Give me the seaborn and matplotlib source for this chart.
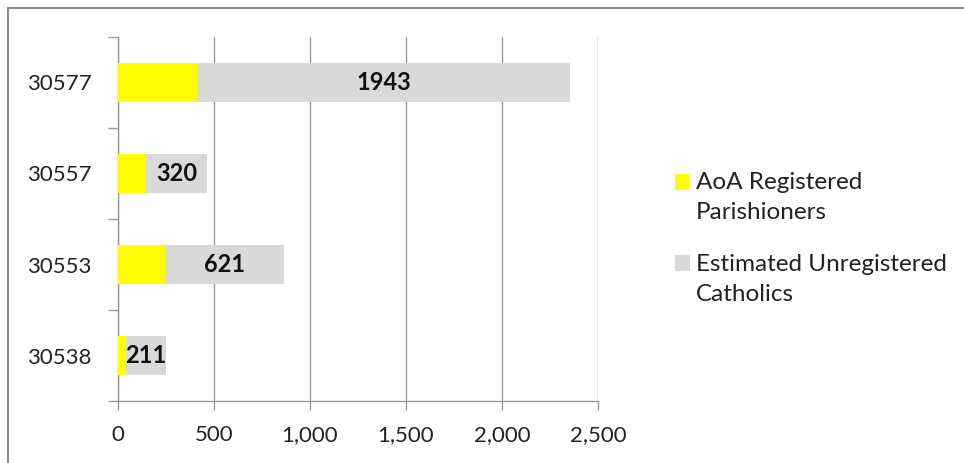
import matplotlib
matplotlib.use('Agg')
import matplotlib.pyplot as plt
import seaborn as sns
import pandas as pd
from matplotlib.lines import Line2D
from matplotlib.patches import Patch
from matplotlib.ticker import FuncFormatter, FixedLocator

# Данные
zips = ['30577', '30557', '30553', '30538']
registered = [413, 144, 244, 41]
unregistered = [1943, 320, 621, 211]
series_names = ['AoA Registered\nParishioners', 'Estimated Unregistered\nCatholics']

df = pd.DataFrame({'zip': zips, 'reg': registered, 'unreg': unregistered})
df['total'] = df['reg'] + df['unreg']

sns.set_style('white')
plt.rcParams['font.family'] = ['Lato', 'DejaVu Sans']

yellow = '#FFFF00'
gray = '#D9D9D9'
line_col = '#9A9A9A'

fig = plt.figure(figsize=(9.64, 4.63), dpi=100)
ax = fig.add_axes([0.1224, 0.1339, 0.4979, 0.7862])

# Сначала полные столбцы (серые), затем зарегистрированные (жёлтые) поверх
sns.barplot(data=df, x='total', y='zip', order=zips, color=gray, width=0.42,
            saturation=1, linewidth=0, ax=ax, zorder=3)
sns.barplot(data=df, x='reg', y='zip', order=zips, color=yellow, width=0.42,
            saturation=1, linewidth=0, ax=ax, zorder=4)

# Подписи значений в серой части
for i, row in df.iterrows():
    ax.text(row['reg'] + row['unreg'] / 2, i, str(row['unreg']),
            ha='center', va='center', fontsize=17, fontweight='bold',
            color='#111111', zorder=5)

ax.set_xlim(0, 2500)
ax.set_ylim(3.5, -0.5)
ax.set_xticks([0, 500, 1000, 1500, 2000, 2500])
ax.xaxis.set_major_formatter(FuncFormatter(lambda v, p: f'{int(v):,}'))
ax.xaxis.grid(True, color=line_col, linewidth=1)
ax.set_axisbelow(True)
ax.set_xlabel('')
ax.set_ylabel('')

ax.yaxis.set_minor_locator(FixedLocator([-0.5, 0.5, 1.5, 2.5, 3.5]))
ax.tick_params(axis='y', which='major', length=0, pad=19, labelsize=16, labelcolor='#222222')
ax.tick_params(axis='y', which='minor', length=7, width=1, color=line_col, direction='out', left=True)
ax.tick_params(axis='x', which='major', length=6.5, width=1, color=line_col, direction='out',
               bottom=True, pad=11, labelsize=16, labelcolor='#222222')

for s in ['top', 'right']:
    ax.spines[s].set_visible(False)
for s in ['left', 'bottom']:
    ax.spines[s].set_color(line_col)
    ax.spines[s].set_linewidth(1)

# Легенда
handles = [Patch(facecolor=yellow, edgecolor='none'), Patch(facecolor=gray, edgecolor='none')]
leg = fig.legend(handles, series_names, loc='center left', bbox_to_anchor=(0.677, 0.485),
                 frameon=False, fontsize=17.5, handlelength=0.64, handleheight=0.64,
                 handletextpad=0.25, labelspacing=1.25, labelcolor='#222222')
for t in leg.get_texts():
    t.set_linespacing(1.55)
# квадратик на уровне первой строки, как в Excel
for h in leg.legend_handles:
    h.set_y(h.get_y() + 11.5)

# Рамка диаграммы
fig.add_artist(Line2D([8 / 964, 8 / 964], [0, 1 - 8 / 463], color='#8C8C8C', linewidth=1.5))
fig.add_artist(Line2D([8 / 964, 1], [1 - 8 / 463, 1 - 8 / 463], color='#8C8C8C', linewidth=1.5))

fig.savefig('out.png', dpi=100)
